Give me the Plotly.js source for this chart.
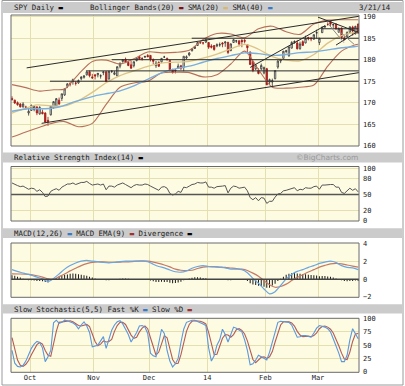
<!DOCTYPE html>
<html><head><meta charset="utf-8">
<script src="https://cdn.plot.ly/plotly-3.0.1.min.js"></script>
<style>html,body{margin:0;padding:0;background:#fff;}#chart{width:405px;height:386px;}</style>
</head><body><div id="chart"></div>
<script>
// ---------------- DATA ----------------
const dates = [
'2013-09-20','2013-09-23','2013-09-24','2013-09-25','2013-09-26','2013-09-27','2013-09-30',
'2013-10-01','2013-10-02','2013-10-03','2013-10-04','2013-10-07','2013-10-08','2013-10-09','2013-10-10','2013-10-11','2013-10-14','2013-10-15','2013-10-16','2013-10-17','2013-10-18','2013-10-21','2013-10-22','2013-10-23','2013-10-24','2013-10-25','2013-10-28','2013-10-29','2013-10-30','2013-10-31',
'2013-11-01','2013-11-04','2013-11-05','2013-11-06','2013-11-07','2013-11-08','2013-11-11','2013-11-12','2013-11-13','2013-11-14','2013-11-15','2013-11-18','2013-11-19','2013-11-20','2013-11-21','2013-11-22','2013-11-25','2013-11-26','2013-11-27','2013-11-29',
'2013-12-02','2013-12-03','2013-12-04','2013-12-05','2013-12-06','2013-12-09','2013-12-10','2013-12-11','2013-12-12','2013-12-13','2013-12-16','2013-12-17','2013-12-18','2013-12-19','2013-12-20','2013-12-23','2013-12-24','2013-12-26','2013-12-27','2013-12-30','2013-12-31',
'2014-01-02','2014-01-03','2014-01-06','2014-01-07','2014-01-08','2014-01-09','2014-01-10','2014-01-13','2014-01-14','2014-01-15','2014-01-16','2014-01-17','2014-01-21','2014-01-22','2014-01-23','2014-01-24','2014-01-27','2014-01-28','2014-01-29','2014-01-30','2014-01-31',
'2014-02-03','2014-02-04','2014-02-05','2014-02-06','2014-02-07','2014-02-10','2014-02-11','2014-02-12','2014-02-13','2014-02-14','2014-02-18','2014-02-19','2014-02-20','2014-02-21','2014-02-24','2014-02-25','2014-02-26','2014-02-27','2014-02-28',
'2014-03-03','2014-03-04','2014-03-05','2014-03-06','2014-03-07','2014-03-10','2014-03-11','2014-03-12','2014-03-13','2014-03-14','2014-03-17','2014-03-18','2014-03-19','2014-03-20','2014-03-21'];

const monthLabels = ['Oct','Nov','Dec','14','Feb','Mar'];

const openP = [171.0,170.6,170.0,169.7,169.0,169.0,167.6,168.2,168.4,169.0,
167.4,167.8,167.6,165.9,167.2,168.8,169.2,170.6,171.0,171.8,
173.8,174.4,174.9,174.6,174.6,175.6,175.9,176.5,177.2,176.0,
176.5,176.5,176.2,177.0,177.2,175.5,177.3,176.6,176.2,178.5,
179.6,180.1,179.4,178.8,178.6,179.8,180.7,180.3,180.6,181.0,
181.0,180.0,178.6,179.4,179.5,180.6,180.3,179.8,177.6,177.6,
178.0,178.6,178.2,180.4,181.1,182.1,182.6,183.3,184.1,183.9,
184.1,184.0,183.2,183.3,183.2,183.4,183.9,183.9,184.0,182.1,
184.0,184.3,184.4,184.5,184.5,183.5,181.8,179.6,177.9,177.5,
177.9,176.9,177.9,174.8,174.8,175.6,178.3,179.7,180.3,181.9,
180.9,182.7,184.0,183.9,182.6,184.2,183.9,185.2,185.0,184.8,
186.2,184.0,186.3,187.6,188.2,188.9,188.1,188.3,186.4,187.4,
185.0,185.4,186.4,187.6,186.0,188.3];
const highP = [171.5,170.7,170.3,169.9,170.1,169.3,168.8,169.6,169.4,169.2,
169.2,168.4,167.8,166.7,169.2,170.3,171.1,171.2,172.1,173.3,
174.5,174.8,175.6,175.0,175.4,176.2,176.4,177.3,177.5,176.7,
176.6,176.9,176.6,177.3,177.3,177.4,177.5,177.4,178.4,179.3,
180.1,180.5,179.8,179.7,179.6,180.5,180.9,180.6,180.9,181.3,
181.1,180.3,179.7,179.6,180.4,180.9,180.5,180.0,177.9,177.8,
179.1,178.8,180.8,181.0,181.8,182.6,183.2,184.1,184.2,184.1,
184.7,184.1,183.6,183.4,183.8,184.0,184.1,184.2,184.2,183.8,
184.8,184.6,184.5,184.8,184.8,183.6,181.9,179.6,178.9,178.0,
179.1,178.4,178.1,175.6,175.6,177.5,179.9,180.1,182.0,182.3,
183.1,184.3,184.5,184.6,184.2,184.5,185.6,185.3,185.3,185.9,
187.0,185.1,187.7,188.0,188.7,189.0,188.4,188.4,187.5,187.5,
185.5,186.6,187.7,187.9,187.9,188.4];
const lowP = [170.5,169.7,169.3,168.9,168.9,168.4,167.0,168.1,168.0,167.1,
167.2,167.3,165.4,164.6,167.0,168.6,169.0,169.5,170.4,171.6,
173.4,173.8,174.2,174.0,174.4,175.2,175.6,176.3,175.9,175.5,
175.4,175.9,175.6,176.4,174.8,175.4,176.9,176.4,176.2,178.0,
179.3,179.2,178.5,177.9,178.2,179.6,180.0,179.8,180.4,180.6,
179.6,179.0,178.1,178.3,179.2,180.4,179.8,177.3,176.8,176.8,
177.9,177.6,177.3,180.1,180.8,181.9,182.5,183.2,183.7,183.5,
183.9,182.5,182.6,182.1,182.9,183.0,182.9,183.0,181.3,182.0,
183.9,183.9,183.1,182.9,183.8,181.6,178.8,177.1,177.6,176.6,
177.5,176.6,174.1,174.2,173.7,175.4,177.9,179.2,180.2,181.5,
180.7,182.6,183.7,182.4,182.3,183.3,183.8,184.5,184.3,184.6,
184.9,183.4,186.2,187.3,187.9,187.7,187.4,186.9,186.3,184.9,
184.5,185.3,186.1,185.6,185.9,186.0];
const closeP = [170.72,169.93,169.53,169.04,169.69,168.91,168.01,169.34,169.18,167.62,
168.89,167.43,165.48,165.60,169.17,170.26,170.94,169.70,172.07,173.22,
174.40,174.36,175.37,174.52,175.15,175.95,176.23,177.17,176.29,175.79,
176.21,176.83,176.27,177.17,174.93,177.29,177.32,176.96,178.38,179.22,
180.05,179.42,178.65,178.02,179.53,180.44,180.23,180.28,180.76,180.68,
180.15,179.62,179.20,178.48,180.31,180.64,180.01,177.63,176.99,177.37,
178.52,177.99,180.80,180.68,181.56,182.53,183.06,184.00,183.94,183.90,
184.69,182.92,182.89,182.36,183.48,183.52,183.64,184.14,181.69,183.67,
184.66,184.42,183.64,184.18,184.30,182.79,178.89,177.49,178.73,176.79,
178.66,178.18,174.17,175.38,175.17,177.48,179.68,180.01,181.98,182.07,
183.01,184.02,184.24,182.53,183.66,183.32,184.98,184.85,184.85,185.82,
186.29,184.98,187.58,187.75,188.18,188.26,188.16,187.23,187.28,185.18,
184.66,186.33,187.66,186.66,187.75,186.20];

// Bollinger bands (20) read at sample days
const bandIdx = [0,5,10,15,19,24,29,34,39,44,49,54,59,64,69,74,79,84,89,94,99,104,109,114,119,124,125];
const bbUpper = [174.2,173.5,172.7,173.0,173.2,176.6,179.6,179.9,179.0,180.2,181.8,181.6,181.7,182.2,184.7,186.1,186.0,185.1,187.2,187.8,186.5,185.9,188.3,189.2,189.3,189.3,189.3];
const bbLower = [162.0,163.2,164.3,165.3,165.6,164.4,165.2,169.6,173.6,174.6,175.0,176.9,177.1,177.0,176.0,176.5,179.0,182.0,177.7,173.6,173.4,173.6,174.1,178.5,182.0,183.5,183.6];
// SMA(20)
const sma20Idx = [0,4,9,14,19,24,29,34,39,44,49,54,59,64,69,74,79,84,89,94,99,104,109,114,119,124,125];
const sma20 = [167.6,168.5,169.5,169.25,169.24,170.48,172.40,174.64,176.29,177.38,178.43,179.25,179.42,179.62,180.37,181.30,182.50,183.58,182.44,180.71,179.93,179.75,181.20,183.86,185.61,186.39,186.53];
// SMA(40)
const sma40Idx = [0,6,12,17,23,30,35,39,44,49,54,59,64,69,74,79,84,89,94,99,104,109,114,119,124,125];
const sma40 = [168.0,168.6,168.6,169.0,170.3,171.6,172.2,172.76,173.93,175.42,176.95,177.86,178.50,179.40,180.27,180.96,181.60,181.41,181.00,181.22,181.66,181.82,182.28,182.77,183.07,183.15];

// hand-drawn trend lines (day index / price)
const trendStartIdx   = [5.3, 10.7, 64.9, 36.0, 26.7, 13.7, 86.0, 110.5, 117.0, 111.8];
const trendStartPrice = [178.1,165.2,185.0,180.0,177.4,175.0,178.2,189.9,183.4,187.2];
const trendEndIdx     = [125.3,125.3,125.3,125.3,125.3,125.3,113.0,125.3,125.3,125.3];
const trendEndPrice   = [190.1,177.0,185.0,180.0,177.4,175.0,187.9,186.3,186.8,187.2];
const grayStartIdx   = [114.0,117.5];
const grayStartPrice = [188.5,187.0];
const grayEndIdx     = [119.8,123.5];
const grayEndPrice   = [184.0,183.6];

// RSI(14)
const rsi = [72,69,67,65,66,63,60,62,61,56, 59,54,46,47,56,59,61,58,64,67,
70,70,72,69,71,73,73,75,71,68, 69,70,68,70,59,66,66,64,68,70,
72,69,66,63,67,69,68,68,70,69, 66,63,61,58,64,65,62,52,49,51,
56,54,64,63,66,69,70,73,72,72, 74,64,64,62,65,65,66,67,53,62,
66,65,62,63,64,57,44,40,44,38, 44,43,33,37,37,45,51,52,57,58,
60,62,63,57,60,59,63,62,62,65, 66,60,68,68,69,69,69,64,64,54,
52,58,62,58,61,55];

// MACD(12,26) and EMA(9) read at sample days
const macdIdx = [0,3,6,9,11,13,15,17,19,21,23,25,27,29,31,33,35,37,39,41,43,45,47,49,51,53,55,57,59,61,63,65,67,69,71,73,75,77,79,81,83,85,87,89,91,93,95,97,99,101,103,105,107,109,111,113,115,117,119,121,123,125];
const macd = [1.10,0.80,0.55,0.25,0.05,-0.25,0.10,0.60,1.15,1.55,1.85,2.05,2.15,2.05,2.00,1.90,1.85,1.92,2.00,2.05,2.05,2.05,2.05,2.00,1.70,1.45,1.30,1.05,0.85,0.80,0.95,1.25,1.45,1.55,1.45,1.40,1.35,1.30,1.15,1.15,1.10,0.75,0.10,-0.45,-1.10,-1.65,-1.40,-0.70,0.05,0.55,0.90,1.10,1.35,1.55,1.80,1.95,2.05,1.90,1.55,1.35,1.30,1.10];
const macdSignal = [0.62,0.60,0.55,0.40,0.25,0.05,0.00,0.30,0.60,0.95,1.25,1.55,1.78,1.92,1.98,1.97,1.93,1.92,1.95,1.97,2.00,2.05,2.08,2.05,1.95,1.80,1.62,1.40,1.15,1.02,0.97,1.02,1.22,1.38,1.44,1.43,1.39,1.35,1.28,1.21,1.16,1.00,0.70,0.35,-0.15,-0.62,-0.90,-0.82,-0.55,-0.15,0.22,0.52,0.82,1.10,1.38,1.58,1.75,1.80,1.75,1.62,1.50,1.38];
// Divergence (daily)
const divergence = [0.45,0.40,0.30,0.20,0.05,-0.05,-0.10,-0.12,-0.15,-0.18,
-0.20,-0.22,-0.30,-0.35,-0.10,0.08,0.15,0.25,0.40,0.50,
0.55,0.62,0.65,0.62,0.58,0.52,0.45,0.40,0.30,0.20,
0.10,0.04,-0.02,-0.05,-0.10,-0.10,-0.06,-0.03,0.02,0.05,
0.08,0.08,0.05,0.03,0.02,0.02,0.00,-0.02,-0.03,-0.05,
-0.15,-0.22,-0.30,-0.32,-0.28,-0.30,-0.32,-0.40,-0.45,-0.42,
-0.35,-0.28,-0.12,-0.04,0.08,0.18,0.22,0.22,0.20,0.16,
0.12,0.02,-0.02,-0.03,-0.02,-0.03,-0.04,-0.04,-0.12,-0.10,
-0.06,-0.05,-0.05,-0.04,-0.06,-0.20,-0.45,-0.60,-0.65,-0.72,
-0.75,-0.85,-0.95,-0.95,-0.70,-0.50,-0.20,0.05,0.30,0.50,
0.62,0.68,0.70,0.65,0.62,0.58,0.56,0.52,0.48,0.45,
0.42,0.35,0.38,0.36,0.32,0.28,0.20,0.08,0.00,-0.12,
-0.20,-0.22,-0.18,-0.18,-0.15,-0.20];

// Slow stochastic (5,5)
const fastK = [40,16,10,9,12,20,32,44,52,57, 55,45,19,28,40,92,97,91,93,97,
96,94,92,88,81,88,94,86,74,47, 49,50,58,66,44,62,78,88,94,96,
90,80,70,56,64,74,86,87,84,72, 35,30,28,52,80,72,40,20,9,15,
25,55,80,93,95,97,97,95,93,90, 87,45,20,30,50,60,80,70,56,70,
84,82,78,75,60,40,13,15,22,31, 28,25,22,37,55,75,93,95,94,94,
93,88,76,65,66,68,68,66,65,73, 82,87,86,84,81,75,62,50,35,19,
19,31,60,81,72,62];
const slowD = [64,40,22,12,10,14,21,32,43,51, 55,52,40,31,29,53,76,93,94,94,
95,96,94,91,87,86,88,89,85,69, 57,49,52,58,56,57,61,76,87,93,
93,89,80,69,63,65,75,82,86,81, 64,46,31,37,53,68,64,44,23,15,
16,32,53,76,89,95,96,96,95,93, 90,74,51,32,33,47,63,70,69,65,
70,79,81,78,71,58,38,23,17,23, 27,28,25,28,38,56,74,88,94,94,
94,92,86,76,69,66,67,67,66,68, 73,81,85,86,84,80,73,62,49,35,
24,23,37,57,71,72];

// ---------------- GEOMETRY / STYLE ----------------
const W = 405, H = 386, ML = 11, MR = 46, MT = 15, MB = 13;
const pw = W - ML - MR, ph = H - MT - MB;
const px = x => (x - ML) / pw;
const py = y => (H - MB - y) / ph;

const idx = dates.map((d, i) => i);
const monthStarts = [];
for (let i = 1; i < dates.length; i++) {
  if (dates[i].slice(5, 7) !== dates[i - 1].slice(5, 7)) monthStarts.push(i - 0.5);
}

const FONT = 'DejaVu Sans Mono';
const GRID = '#e3dfae';
const BG = '#fdfbe2';

function segs(x0, y0, x1, y1) {
  const xs = [], ys = [];
  for (let i = 0; i < x0.length; i++) { xs.push(x0[i], x1[i], null); ys.push(y0[i], y1[i], null); }
  return {xs, ys};
}
const tBlack = segs(trendStartIdx, trendStartPrice, trendEndIdx, trendEndPrice);
const tGray = segs(grayStartIdx, grayStartPrice, grayEndIdx, grayEndPrice);

const traces = [
  {type:'bar', x: idx, y: divergence, xaxis:'x', yaxis:'y3', marker:{color:'#111'}, width:0.35},
  {type:'candlestick', x: idx, open: openP, high: highP, low: lowP, close: closeP, xaxis:'x', yaxis:'y',
   increasing:{line:{color:'#333', width:0.8}, fillcolor:'#ffffff'},
   decreasing:{line:{color:'#a01818', width:0.8}, fillcolor:'#b82020'}, whiskerwidth:0},
  {type:'scatter', mode:'lines', x: bandIdx, y: bbUpper, yaxis:'y', line:{color:'#b8705c', width:1.1, shape:'spline', smoothing:0.8}},
  {type:'scatter', mode:'lines', x: bandIdx, y: bbLower, yaxis:'y', line:{color:'#b8705c', width:1.1, shape:'spline', smoothing:0.8}},
  {type:'scatter', mode:'lines', x: sma20Idx, y: sma20, yaxis:'y', line:{color:'#dcc488', width:1.3, shape:'spline', smoothing:0.8}},
  {type:'scatter', mode:'lines', x: sma40Idx, y: sma40, yaxis:'y', line:{color:'#7aaede', width:1.4, shape:'spline', smoothing:0.8}},
  {type:'scatter', mode:'lines', x: tBlack.xs, y: tBlack.ys, yaxis:'y', line:{color:'#2a2a2a', width:1}, connectgaps:false},
  {type:'scatter', mode:'lines', x: tGray.xs, y: tGray.ys, yaxis:'y', line:{color:'#8a8a8a', width:1}, connectgaps:false},
  {type:'scatter', mode:'lines', x: idx, y: rsi, yaxis:'y2', line:{color:'#555', width:1}},
  {type:'scatter', mode:'lines', x: macdIdx, y: macdSignal, yaxis:'y3', line:{color:'#c47a66', width:1.2, shape:'spline', smoothing:0.7}},
  {type:'scatter', mode:'lines', x: macdIdx, y: macd, yaxis:'y3', line:{color:'#6aa6e2', width:1.2, shape:'spline', smoothing:0.7}},
  {type:'scatter', mode:'lines', x: idx, y: slowD, yaxis:'y4', line:{color:'#b55a55', width:1.1}},
  {type:'scatter', mode:'lines', x: idx, y: fastK, yaxis:'y4', line:{color:'#5b98dc', width:1.1}}
];

function yax(domain, range, tickvals, extra) {
  return Object.assign({domain, range, tickvals, side:'right', anchor:'x', showgrid:true, gridcolor:GRID, gridwidth:1,
    zeroline:false, showline:false, ticks:'', ticklabelstandoff:3, fixedrange:true,
    tickfont:{family:FONT, size:7, color:'#222'}}, extra || {});
}

const shapes = [];
// outer frame
shapes.push({type:'rect', xref:'paper', yref:'paper', x0:px(2), x1:px(403), y0:py(385), y1:py(0.5), line:{color:'#9a9a9a', width:1}, layer:'below'});
// header bars
[[2,13],[152.5,162.5],[228.3,238],[304.3,313.5]].forEach(b => {
  shapes.push({type:'rect', xref:'paper', yref:'paper', x0:px(3), x1:px(402), y0:py(b[1]), y1:py(b[0]), fillcolor:'#cbcbcb', line:{width:0}, layer:'below'});
});
// reference lines
shapes.push({type:'line', xref:'x domain', yref:'y2', x0:0, x1:1, y0:50, y1:50, line:{color:'#555', width:1.5}});
shapes.push({type:'line', xref:'x domain', yref:'y3', x0:0, x1:1, y0:0, y1:0, line:{color:'#444', width:1.6}});
// panel frames
['y','y2','y3','y4'].forEach(a => {
  shapes.push({type:'rect', xref:'x domain', yref:a + ' domain', x0:0, x1:1, y0:0, y1:1, line:{color:'#6a6a6a', width:1}});
});

function ann(text, x, y, opts) {
  return Object.assign({text, xref:'paper', yref:'paper', x:px(x), y:py(y), xanchor:'left', yanchor:'middle', showarrow:false,
    font:{family:FONT, size:7.4, color:'#222'}}, opts || {});
}
const dash = c => `<span style="color:${c}">▬</span>`;
const annotations = [
  ann('SPY Daily ' + dash('#000'), 12, 7.5),
  ann('Bollinger Bands(20) ' + dash('#7a1010') + ' SMA(20) ' + dash('#d8b870') + ' SMA(40) ' + dash('#3a78c8'), 88, 7.5),
  ann('3/21/14', 393, 7.5, {xanchor:'right'}),
  ann('Relative Strength Index(14) ' + dash('#000'), 12, 157.5),
  ann('©BigCharts.com', 360, 157.5, {xanchor:'right', font:{family:'DejaVu Sans', size:7.5, color:'#9a9a9a'}}),
  ann('MACD(12,26) ' + dash('#3a78c8') + ' MACD EMA(9) ' + dash('#a03030') + ' Divergence ' + dash('#000'), 12, 233),
  ann('Slow Stochastic(5,5) Fast %K ' + dash('#3a78c8') + ' Slow %D ' + dash('#a03030'), 12, 309)
];

const layout = {
  width: W, height: H,
  margin: {l: ML, r: MR, t: MT, b: MB, pad: 0},
  paper_bgcolor: '#ffffff', plot_bgcolor: BG,
  showlegend: false, hovermode: false,
  xaxis: {range:[-0.36, 125.3], anchor:'y4', tickvals: monthStarts, ticktext: monthLabels,
    showgrid:true, gridcolor:GRID, gridwidth:1, zeroline:false, showline:false, ticks:'', ticklabelstandoff:0,
    tickfont:{family:FONT, size:7, color:'#222'}, rangeslider:{visible:false}, fixedrange:true},
  yaxis: yax([py(146), 1], [159.93, 190.4], [160,165,170,175,180,185,190]),
  yaxis2: yax([py(221), py(166.5)], [-0.57, 103.4], [0,20,50,80,100]),
  yaxis3: yax([py(297.3), py(243)], [-2.04, 4.11], [-2,0,2,4]),
  yaxis4: yax([py(372.3), py(318.3)], [-1.1, 100.6], [0,25,50,75,100]),
  shapes, annotations
};

Plotly.newPlot('chart', traces, layout, {staticPlot:true, displayModeBar:false});
</script>
</body></html>
